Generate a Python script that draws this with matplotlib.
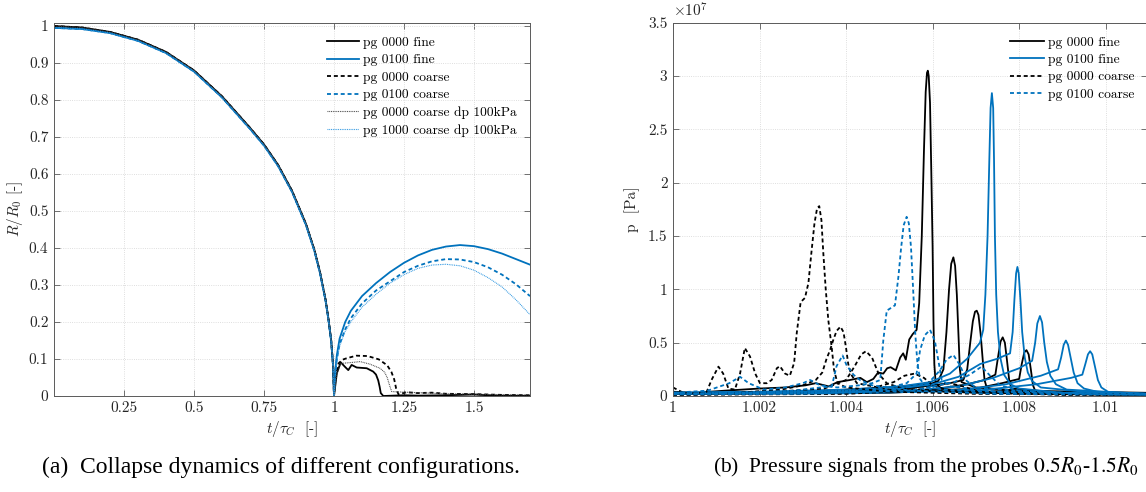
import numpy as np
import matplotlib
matplotlib.use('Agg')
import matplotlib.pyplot as plt

plt.rcParams['font.family'] = ['cmr10', 'DejaVu Serif']
plt.rcParams['mathtext.fontset'] = 'cm'
plt.rcParams['axes.formatter.use_mathtext'] = True

BLUE = '#0072BD'
GREY = '#5a5a5a'

# ---- (a) collapse: R/R0 over t/tau_C ----
t_coll = [0.0, 0.1, 0.2, 0.3, 0.4, 0.5, 0.6, 0.7, 0.75, 0.8, 0.85, 0.9, 0.93, 0.95, 0.97, 0.98, 0.99, 0.997, 1.0]
r_coll_black = [1.0, 0.996, 0.984, 0.963, 0.93, 0.88, 0.81, 0.725, 0.68, 0.625, 0.555, 0.465, 0.395, 0.335,
                0.26, 0.21, 0.15, 0.08, 0.0]
r_coll_blue = [0.995, 0.992, 0.981, 0.960, 0.927, 0.877, 0.807, 0.722, 0.677, 0.622, 0.552, 0.462, 0.392, 0.332,
               0.257, 0.207, 0.147, 0.078, 0.0]

t_reb_fine0000 = [1.0, 1.01, 1.024, 1.039, 1.051, 1.063, 1.081, 1.117, 1.14, 1.15, 1.158, 1.163, 1.167, 1.176,
                  1.25, 1.3, 1.4, 1.5, 1.55, 1.6, 1.7]
r_reb_fine0000 = [0.0, 0.061, 0.091, 0.079, 0.07, 0.084, 0.077, 0.075, 0.066, 0.058, 0.042, 0.025, 0.008, 0.0,
                  0.002, 0.001, 0.002, 0.004, 0.002, 0.001, 0.0]
t_reb_fine0100 = [1.0, 1.005, 1.01, 1.02, 1.04, 1.06, 1.1, 1.15, 1.2, 1.25, 1.3, 1.35, 1.4, 1.45, 1.5,
                  1.55, 1.6, 1.65, 1.7]
r_reb_fine0100 = [0.0, 0.07, 0.11, 0.155, 0.2, 0.23, 0.27, 0.305, 0.335, 0.36, 0.38, 0.395, 0.404, 0.408, 0.405,
                  0.397, 0.385, 0.37, 0.355]
t_reb_coarse0000 = [1.0, 1.0036, 1.016, 1.03, 1.045, 1.08, 1.12, 1.16, 1.19, 1.205, 1.215, 1.222, 1.23,
                    1.26, 1.3, 1.35, 1.4, 1.5, 1.6, 1.7]
r_reb_coarse0000 = [0.0, 0.043, 0.088, 0.098, 0.102, 0.109, 0.108, 0.099, 0.083, 0.065, 0.045, 0.02, 0.005,
                    0.01, 0.008, 0.009, 0.006, 0.005, 0.003, 0.002]
t_reb_coarse0100 = [1.0, 1.005, 1.01, 1.02, 1.04, 1.06, 1.1, 1.15, 1.2, 1.25, 1.3, 1.35, 1.4, 1.45, 1.5,
                    1.55, 1.6, 1.65, 1.7]
r_reb_coarse0100 = [0.0, 0.065, 0.1, 0.14, 0.18, 0.21, 0.25, 0.285, 0.31, 0.335, 0.352, 0.364, 0.37, 0.369, 0.362,
                    0.348, 0.328, 0.302, 0.27]
t_reb_dp0000 = [1.0, 1.01, 1.024, 1.069, 1.093, 1.129, 1.164, 1.18, 1.19, 1.2, 1.206,
                1.23, 1.3, 1.4, 1.5, 1.6, 1.7]
r_reb_dp0000 = [0.0, 0.06, 0.088, 0.091, 0.093, 0.086, 0.075, 0.065, 0.05, 0.025, 0.012,
                0.011, 0.009, 0.006, 0.005, 0.003, 0.003]
t_reb_dp1000 = [1.0, 1.005, 1.01, 1.02, 1.04, 1.06, 1.1, 1.15, 1.2, 1.25, 1.3, 1.35, 1.4, 1.45, 1.5,
                1.55, 1.6, 1.65, 1.7]
r_reb_dp1000 = [0.0, 0.06, 0.095, 0.135, 0.175, 0.2, 0.24, 0.275, 0.305, 0.328, 0.345, 0.354, 0.356, 0.352, 0.34,
                0.32, 0.295, 0.26, 0.22]

xticks_a = [0.25, 0.5, 0.75, 1, 1.25, 1.5]
xticklabels_a = ['0.25', '0.5', '0.75', '1', '1.25', '1.5']
yticks_a = [0, 0.1, 0.2, 0.3, 0.4, 0.5, 0.6, 0.7, 0.8, 0.9, 1]
yticklabels_a = ['0', '0.1', '0.2', '0.3', '0.4', '0.5', '0.6', '0.7', '0.8', '0.9', '1']

# ---- (b) probe pressures: time as (t/tau_C - 1) * 1e3, pressure in 1e7 Pa ----
fine0000_dt = [
    [0, 0.5, 1.2, 2.0, 2.6, 3.06, 3.3, 3.6, 3.8, 4.09, 4.33, 4.48, 4.63, 4.74, 4.86, 4.95, 5.03, 5.15, 5.25,
     5.32, 5.38, 5.46, 5.54, 5.63, 5.69, 5.75, 5.80, 5.84, 5.87, 5.89, 5.91, 5.94, 5.97, 6.0, 6.02, 6.04, 6.07,
     6.2, 6.6, 7.5, 8.5, 10.0, 10.95],
    [0, 3, 5, 5.8, 6.0, 6.13, 6.25, 6.32, 6.38, 6.43, 6.48, 6.52, 6.56, 6.60, 6.63, 6.67, 7.0, 8, 10.95],
    [0, 3, 5, 6.0, 6.4, 6.71, 6.80, 6.87, 6.93, 6.98, 7.02, 7.06, 7.11, 7.16, 7.20, 7.25, 7.4, 8.5, 10.95],
    [0, 4, 6, 6.8, 7.2, 7.45, 7.51, 7.57, 7.62, 7.67, 7.72, 7.77, 7.82, 9, 10.95],
    [0, 5, 7, 7.6, 8.0, 8.06, 8.12, 8.17, 8.22, 8.27, 8.32, 8.38, 9, 10.95],
]
fine0000_p = [
    [0.04, 0.03, 0.05, 0.07, 0.08, 0.10, 0.12, 0.09, 0.13, 0.15, 0.17, 0.13, 0.16, 0.22, 0.21, 0.26, 0.27, 0.24, 0.36,
     0.40, 0.34, 0.53, 0.58, 0.62, 0.87, 1.5, 2.3, 2.85, 3.03, 3.05, 3.0, 2.75, 2.1, 1.4, 0.7, 0.3, 0.12,
     0.07, 0.05, 0.04, 0.03, 0.02, 0.02],
    [0.02, 0.04, 0.08, 0.11, 0.12, 0.14, 0.25, 0.6, 1.0, 1.24, 1.30, 1.22, 0.95, 0.55, 0.25, 0.13, 0.08, 0.05, 0.03],
    [0.02, 0.03, 0.05, 0.10, 0.12, 0.15, 0.25, 0.5, 0.7, 0.79, 0.80, 0.76, 0.58, 0.33, 0.15, 0.08, 0.06, 0.04, 0.02],
    [0.02, 0.03, 0.06, 0.11, 0.15, 0.2, 0.36, 0.51, 0.55, 0.5, 0.33, 0.15, 0.07, 0.03, 0.02],
    [0.02, 0.03, 0.07, 0.12, 0.16, 0.3, 0.41, 0.43, 0.39, 0.25, 0.1, 0.04, 0.02, 0.01],
]
fine0100_dt = [
    [0, 2, 4, 5.25, 5.94, 6.40, 6.8, 7.095, 7.17, 7.22, 7.27, 7.31, 7.34, 7.37, 7.40, 7.42, 7.44, 7.47, 7.51,
     7.57, 7.65, 7.8, 8.0, 9, 10.95],
    [0, 3, 5, 6, 6.6, 7.1, 7.5, 7.79, 7.85, 7.89, 7.93, 7.96, 7.99, 8.03, 8.07, 8.13, 8.2, 8.3, 8.5, 9.5, 10.95],
    [0, 3, 5.5, 6.6, 7.4, 8.0, 8.30, 8.37, 8.42, 8.48, 8.53, 8.58, 8.64, 8.72, 8.85, 9.1, 10, 10.95],
    [0, 4, 6.5, 7.7, 8.5, 8.9, 8.97, 9.03, 9.08, 9.13, 9.19, 9.26, 9.35, 9.5, 9.8, 10.95],
    [0, 4, 7, 8.4, 9.2, 9.46, 9.53, 9.59, 9.64, 9.69, 9.75, 9.82, 9.9, 10.05, 10.3, 10.95],
]
fine0100_p = [
    [0.03, 0.04, 0.06, 0.09, 0.13, 0.21, 0.35, 0.50, 0.62, 0.95, 1.5, 2.2, 2.7, 2.84, 2.7, 2.2, 1.5, 0.95, 0.6,
     0.35, 0.2, 0.11, 0.07, 0.03, 0.02],
    [0.03, 0.04, 0.06, 0.11, 0.18, 0.30, 0.35, 0.40, 0.6, 0.9, 1.15, 1.21, 1.15, 0.9, 0.6, 0.36, 0.22, 0.14, 0.08,
     0.04, 0.02],
    [0.03, 0.035, 0.05, 0.09, 0.17, 0.26, 0.33, 0.5, 0.68, 0.75, 0.69, 0.5, 0.32, 0.19, 0.11, 0.06, 0.04, 0.02],
    [0.025, 0.03, 0.05, 0.11, 0.19, 0.25, 0.36, 0.48, 0.52, 0.48, 0.36, 0.22, 0.12, 0.07, 0.04, 0.02],
    [0.02, 0.025, 0.05, 0.11, 0.17, 0.2, 0.3, 0.39, 0.42, 0.39, 0.28, 0.15, 0.08, 0.04, 0.02, 0.02],
]
coarse0000_dt = [
    [0, 0.24, 0.55, 0.78, 0.89, 1.05, 1.16, 1.28, 1.43, 1.55, 1.66, 1.78, 1.90, 2.01, 2.17, 2.28, 2.40, 2.47,
     2.59, 2.70, 2.80, 2.86, 2.95, 3.05, 3.13, 3.2, 3.27, 3.33, 3.38, 3.43, 3.474, 3.53, 3.59, 3.667, 3.72, 3.8,
     4.0, 5, 7, 10.95],
    [0, 1.5, 2.5, 3.0, 3.3, 3.45, 3.55, 3.63, 3.7, 3.78, 3.87, 3.94, 4.0, 4.05, 4.12, 4.25, 5, 7, 10.95],
    [0, 2, 3.5, 4.0, 4.2, 4.35, 4.46, 4.6, 4.75, 4.94, 5.3, 7, 10.95],
    [0, 3, 4.5, 5.1, 5.35, 5.58, 5.8, 6.0, 6.4, 8, 10.95],
    [0, 4, 5.5, 6.1, 6.4, 6.7, 7.1, 9, 10.95],
]
coarse0000_p = [
    [0.08, 0.03, 0.025, 0.04, 0.15, 0.275, 0.21, 0.07, 0.06, 0.21, 0.45, 0.37, 0.21, 0.12, 0.12, 0.15, 0.26, 0.28,
     0.21, 0.19, 0.31, 0.59, 0.88, 0.92, 1.06, 1.35, 1.62, 1.76, 1.78, 1.65, 1.34, 1.0, 0.71, 0.46, 0.25, 0.12,
     0.08, 0.04, 0.02, 0.01],
    [0.02, 0.03, 0.06, 0.10, 0.15, 0.22, 0.35, 0.43, 0.52, 0.61, 0.65, 0.6, 0.45, 0.3, 0.2, 0.12, 0.06, 0.03, 0.01],
    [0.02, 0.03, 0.07, 0.15, 0.28, 0.39, 0.42, 0.36, 0.21, 0.12, 0.07, 0.03, 0.01],
    [0.01, 0.03, 0.06, 0.13, 0.19, 0.21, 0.17, 0.10, 0.05, 0.02, 0.01],
    [0.01, 0.02, 0.05, 0.10, 0.12, 0.09, 0.04, 0.01, 0.01],
]
coarse0100_dt = [
    [0, 0.8, 1.3, 1.55, 1.75, 2.1, 2.6, 3.0, 3.17, 3.4, 3.8, 4.3, 4.6, 4.79, 4.86, 4.94, 5.13, 5.21, 5.27, 5.33,
     5.40, 5.45, 5.50, 5.55, 5.60, 5.65, 5.71, 5.78, 6.2, 8, 10.95],
    [0, 1.5, 2.8, 3.4, 3.67, 3.78, 3.92, 4.01, 4.17, 4.32, 4.6, 5.5, 7.5, 10.95],
    [0, 2, 4, 5.0, 5.4, 5.63, 5.71, 5.82, 5.94, 6.05, 6.13, 6.21, 6.4, 7.5, 10.95],
    [0, 3, 5, 5.9, 6.17, 6.32, 6.48, 6.63, 6.79, 7.0, 8.5, 10.95],
    [0, 3, 5.5, 6.5, 6.86, 7.13, 7.33, 7.56, 8.0, 9.5, 10.95],
]
coarse0100_p = [
    [0.03, 0.05, 0.12, 0.18, 0.12, 0.06, 0.08, 0.12, 0.15, 0.10, 0.08, 0.10, 0.12, 0.15, 0.52, 0.80, 0.85, 1.12, 1.38,
     1.6, 1.68, 1.62, 1.4, 1.0, 0.58, 0.3, 0.16, 0.12, 0.06, 0.03, 0.02],
    [0.02, 0.03, 0.05, 0.08, 0.09, 0.28, 0.38, 0.29, 0.20, 0.15, 0.10, 0.05, 0.02, 0.01],
    [0.02, 0.03, 0.05, 0.08, 0.12, 0.21, 0.43, 0.57, 0.62, 0.52, 0.34, 0.15, 0.09, 0.04, 0.02],
    [0.02, 0.03, 0.05, 0.12, 0.24, 0.34, 0.385, 0.29, 0.14, 0.08, 0.03, 0.02],
    [0.015, 0.02, 0.05, 0.13, 0.20, 0.275, 0.19, 0.10, 0.05, 0.02, 0.01],
]

xticks_b = [1.0, 1.002, 1.004, 1.006, 1.008, 1.01]
xticklabels_b = ['1', '1.002', '1.004', '1.006', '1.008', '1.01']
yticks_b = [0, 0.5, 1, 1.5, 2, 2.5, 3, 3.5]
yticklabels_b = ['0', '0.5', '1', '1.5', '2', '2.5', '3', '3.5']


def style_axes(ax):
    ax.tick_params(direction='in', top=True, right=True, length=4, width=0.6,
                   colors=GREY, labelcolor='#262626', labelsize=11, pad=4)
    for s in ax.spines.values():
        s.set_color(GREY)
        s.set_linewidth(0.7)
    ax.grid(True, color='#d4d4d4', linestyle=':', linewidth=0.6)
    ax.set_axisbelow(True)


fig = plt.figure(figsize=(11.46, 4.92), dpi=100)
ax1 = fig.add_axes([54 / 1146, 96 / 492, 476 / 1146, 373.3 / 492])
ax2 = fig.add_axes([673 / 1146, 96 / 492, 474 / 1146, 373.3 / 492])

# (a)
series_a = [
    (r_coll_black, t_reb_fine0000, r_reb_fine0000, 'k', '-', 1.3, 'pg 0000 fine'),
    (r_coll_blue, t_reb_fine0100, r_reb_fine0100, BLUE, '-', 1.3, 'pg 0100 fine'),
    (r_coll_black, t_reb_coarse0000, r_reb_coarse0000, 'k', (0, (2.2, 1.6)), 1.3, 'pg 0000 coarse'),
    (r_coll_blue, t_reb_coarse0100, r_reb_coarse0100, BLUE, (0, (2.2, 1.6)), 1.3, 'pg 0100 coarse'),
    (r_coll_black, t_reb_dp0000, r_reb_dp0000, '#444444', (0, (0.8, 0.8)), 0.8, 'pg 0000 coarse dp 100kPa'),
    (r_coll_blue, t_reb_dp1000, r_reb_dp1000, '#2b95e0', (0, (0.8, 0.8)), 0.8, 'pg 1000 coarse dp 100kPa'),
]
for r_coll, t_reb, r_reb, c, ls, lw, lab in series_a:
    ax1.plot(t_coll + t_reb[1:], r_coll + r_reb[1:], color=c, linestyle=ls, linewidth=lw, label=lab)

ax1.set_xlim(0, 1.7)
ax1.set_ylim(0, 1.009)
ax1.set_xticks(xticks_a)
ax1.set_xticklabels(xticklabels_a)
ax1.set_yticks(yticks_a)
ax1.set_yticklabels(yticklabels_a)
style_axes(ax1)
ax1.set_xlabel(r'$t/\tau_C$  [-]', fontsize=11, color='#262626', labelpad=3)
ax1.set_ylabel(r'$R/R_0$ [-]', fontsize=11, color='#262626', labelpad=3)
ax1.legend(loc='upper right', bbox_to_anchor=(0.99, 0.985), frameon=False, fontsize=9.7,
           handlelength=2.4, handletextpad=0.3, labelspacing=0.38, borderaxespad=0.2)

# (b)
series_b = [
    (fine0000_dt, fine0000_p, 'k', '-', 'pg 0000 fine'),
    (fine0100_dt, fine0100_p, BLUE, '-', 'pg 0100 fine'),
    (coarse0000_dt, coarse0000_p, 'k', (0, (2.2, 1.6)), 'pg 0000 coarse'),
    (coarse0100_dt, coarse0100_p, BLUE, (0, (2.2, 1.6)), 'pg 0100 coarse'),
]
for dts, ps, c, ls, lab in series_b:
    for i, (dt, p) in enumerate(zip(dts, ps)):
        t = 1 + np.array(dt) * 1e-3
        ax2.plot(t, np.array(p) * 1e7, color=c, linestyle=ls, linewidth=1.3,
                 label=lab if i == 0 else None)

ax2.set_xlim(1.0, 1.010955)
ax2.set_ylim(0, 3.5e7)
ax2.set_xticks(xticks_b)
ax2.set_xticklabels(xticklabels_b)
ax2.set_yticks(np.array(yticks_b) * 1e7)
ax2.set_yticklabels(yticklabels_b)
style_axes(ax2)
ax2.set_xlabel(r'$t/\tau_C$  [-]', fontsize=11, color='#262626', labelpad=3)
ax2.set_ylabel('p  [Pa]', fontsize=11, color='#262626', labelpad=6)
ax2.text(0.0, 1.008, r'$\times10^{7}$', transform=ax2.transAxes, fontsize=11,
         color='#262626', ha='left', va='bottom')
ax2.legend(loc='upper right', bbox_to_anchor=(0.99, 0.985), frameon=False, fontsize=9.7,
           handlelength=2.5, handletextpad=0.3, labelspacing=0.36, borderaxespad=0.2)

fig.text(281 / 1146, 1 - 467 / 492, '(a)  Collapse dynamics of different configurations.',
         family='Liberation Serif', fontsize=17, ha='center', va='center')
fig.text(926 / 1146, 1 - 467 / 492, r'(b)  Pressure signals from the probes $0.5R_0$-$1.5R_0$',
         family='Liberation Serif', math_fontfamily='stix', fontsize=15.5, ha='center', va='center')

fig.savefig('out.png', dpi=100)
